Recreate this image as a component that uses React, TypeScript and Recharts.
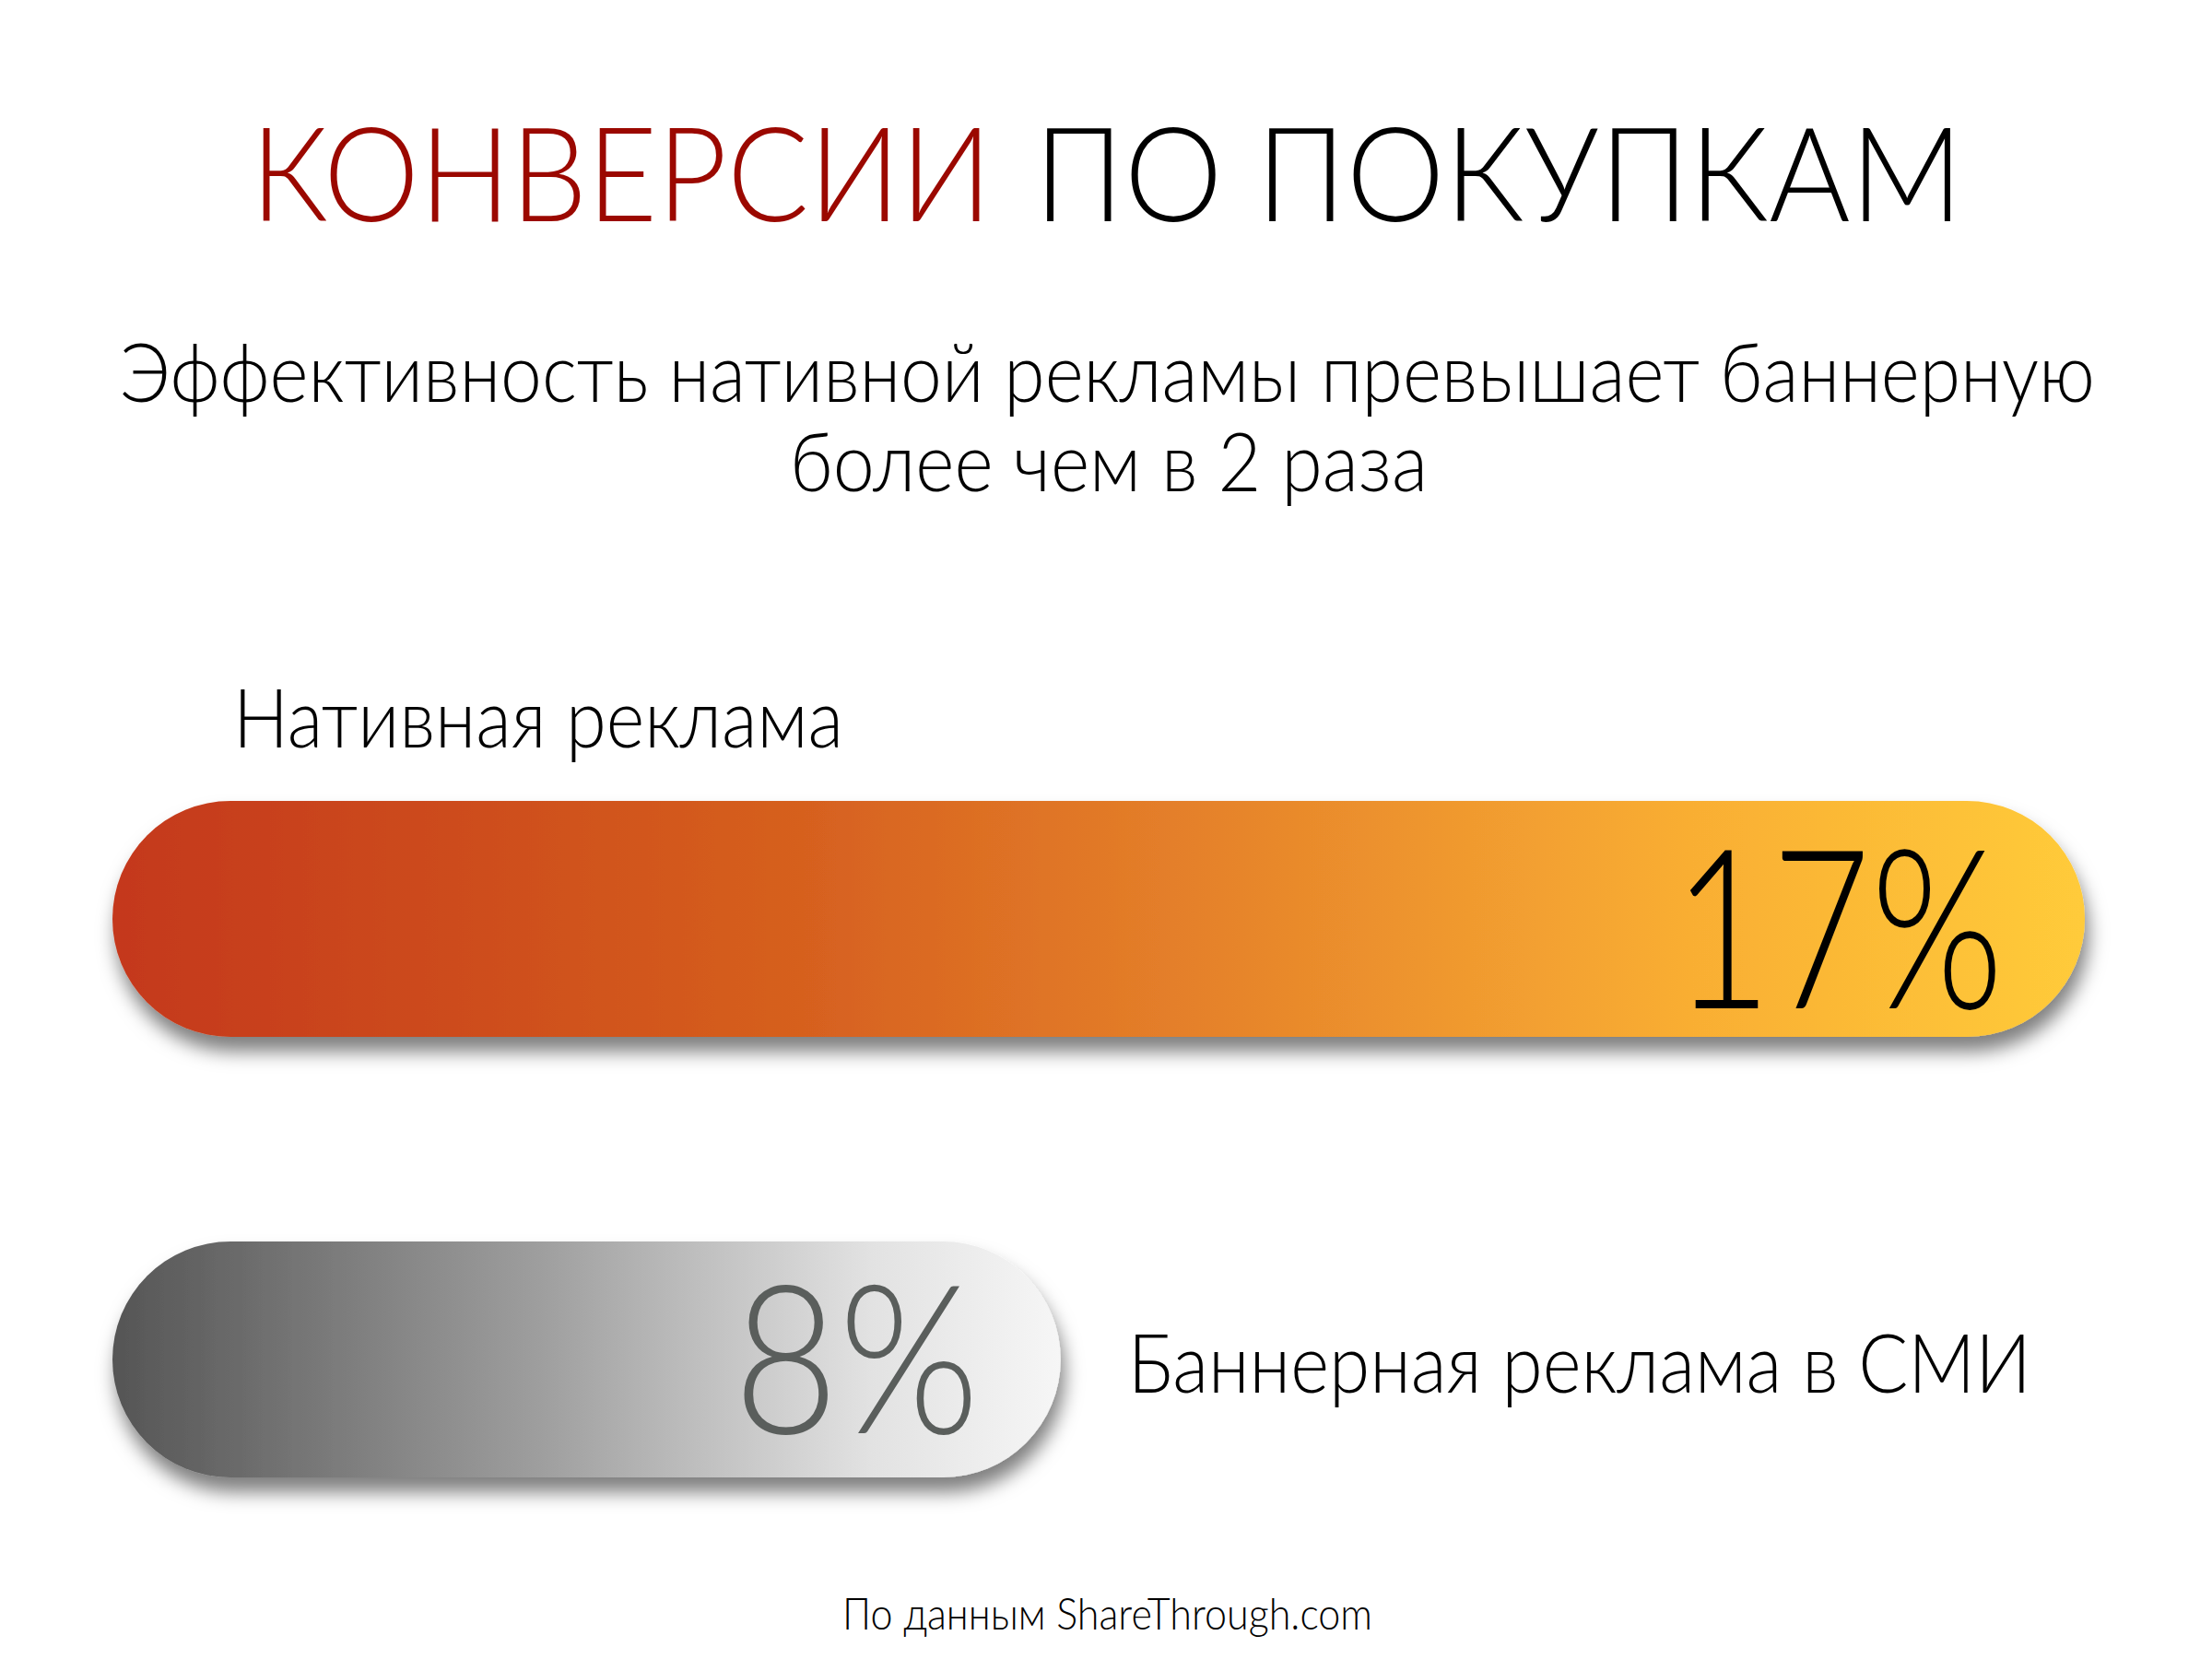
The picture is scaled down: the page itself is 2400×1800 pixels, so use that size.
import React from 'react';
import { BarChart, Bar, XAxis, YAxis, LabelList } from 'recharts';

const categories = ['Нативная реклама', 'Баннерная реклама в СМИ'];
const values = [17, 8];
const valueLabels = ['17%', '8%'];

const titleRed = 'КОНВЕРСИИ';
const titleBlack = 'ПО ПОКУПКАМ';
const subtitleLines = ['Эффективность нативной рекламы превышает баннерную', 'более чем в 2 раза'];
const sourceNote = 'По данным ShareThrough.com';

const data = categories.map((name, i) => ({ name, value: values[i], label: valueLabels[i] }));

const FONT = 'Lato, "Open Sans", "Noto Sans", sans-serif';
const CAP = 41; // rounded left cap overhang beyond the zero line

const BarShape = (props: any) => {
  const { x, y, width, height, index } = props;
  return (
    <rect
      x={x - CAP}
      y={y}
      width={width + CAP}
      height={height}
      rx={height / 2}
      ry={height / 2}
      fill={`url(#barGrad${index})`}
      filter="url(#barShadow)"
    />
  );
};

const ValueLabel = (props: any) => {
  const { x, y, width, height, index, value } = props;
  const right = x + width - 88;
  const cfg = index === 0
    ? { size: 242, base: 97, len: 359, color: '#000000' }
    : { size: 226, base: 80, len: 267, color: '#5A5E5C' };
  return (
    <text
      x={right}
      y={y + height / 2 + cfg.base}
      textAnchor="end"
      fontFamily={FONT}
      fontWeight={300}
      fontSize={cfg.size}
      fill={cfg.color}
      textLength={cfg.len}
      lengthAdjust="spacingAndGlyphs"
    >
      {value}
    </text>
  );
};

const NameLabel = (props: any) => {
  const { x, y, width, height, index, value } = props;
  if (index === 0) {
    return (
      <text x={x - CAP + 131} y={y - 58} fontFamily={FONT} fontWeight={300} fontSize={88} fill="#000"
        textLength={662} lengthAdjust="spacingAndGlyphs">
        {value}
      </text>
    );
  }
  return (
    <text x={x + width + 73} y={y + height / 2 + 36} fontFamily={FONT} fontWeight={300} fontSize={88} fill="#000"
      textLength={980} lengthAdjust="spacingAndGlyphs">
      {value}
    </text>
  );
};

export default function App() {
  return (
    <div style={{ position: 'absolute', left: 0, top: 0, width: 2400, height: 1800, background: '#fff' }}>
      <svg width={2400} height={1800} style={{ position: 'absolute', left: 0, top: 0 }}>
        <text x={272} y={240} fontFamily={FONT} fontWeight={300} fontSize={142} fill="#9B0800"
          textLength={804} lengthAdjust="spacingAndGlyphs">{titleRed}</text>
        <text x={1122} y={240} fontFamily={FONT} fontWeight={300} fontSize={142} fill="#000"
          textLength={1008} lengthAdjust="spacingAndGlyphs">{titleBlack}</text>
        <text x={130} y={436} fontFamily={FONT} fontWeight={300} fontSize={88} fill="#000"
          textLength={2143} lengthAdjust="spacingAndGlyphs">{subtitleLines[0]}</text>
        <text x={857} y={533} fontFamily={FONT} fontWeight={300} fontSize={88} fill="#000"
          textLength={692} lengthAdjust="spacingAndGlyphs">{subtitleLines[1]}</text>
        <text x={914} y={1768} fontFamily={FONT} fontWeight={300} fontSize={47} fill="#000"
          textLength={575} lengthAdjust="spacingAndGlyphs">{sourceNote}</text>
      </svg>
      <div style={{ position: 'absolute', left: 0, top: 0 }}>
        <BarChart
          width={2400}
          height={1800}
          data={data}
          layout="vertical"
          margin={{ top: 758, right: 138, bottom: 86, left: 163 }}
        >
          <defs>
            <linearGradient id="barGrad0" x1="0" y1="0" x2="1" y2="0">
              <stop offset="0%" stopColor="#C4381B" />
              <stop offset="35%" stopColor="#D6601F" />
              <stop offset="55%" stopColor="#E5812A" />
              <stop offset="80%" stopColor="#F9AE33" />
              <stop offset="100%" stopColor="#FFCB3A" />
            </linearGradient>
            <linearGradient id="barGrad1" x1="0" y1="0" x2="1" y2="0">
              <stop offset="0%" stopColor="#555555" />
              <stop offset="45%" stopColor="#9E9E9E" />
              <stop offset="80%" stopColor="#E2E2E2" />
              <stop offset="100%" stopColor="#F6F6F6" />
            </linearGradient>
            <filter id="barShadow" x="-10%" y="-30%" width="120%" height="170%">
              <feDropShadow dx="4" dy="16" stdDeviation="10" floodColor="#000" floodOpacity="0.5" />
            </filter>
          </defs>
          <XAxis type="number" domain={[0, 17]} hide />
          <YAxis type="category" dataKey="name" hide />
          <Bar dataKey="value" barSize={256} shape={BarShape} isAnimationActive={false}>
            <LabelList dataKey="label" content={ValueLabel} />
            <LabelList dataKey="name" content={NameLabel} />
          </Bar>
        </BarChart>
      </div>
    </div>
  );
}
